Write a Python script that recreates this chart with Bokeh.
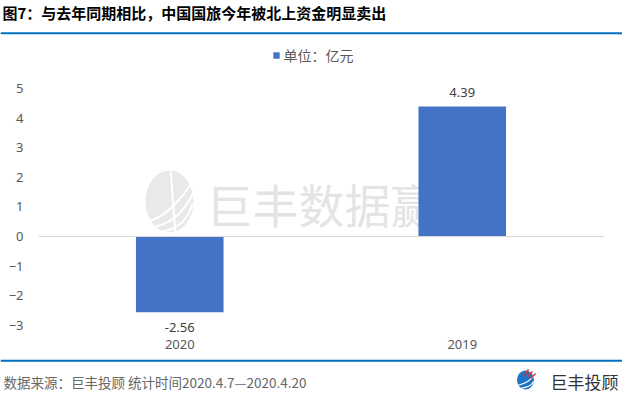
from bokeh.plotting import figure
from bokeh.models import (ColumnDataSource, Range1d, FixedTicker, Span,
                          Label, LabelSet, Legend, LegendItem)
from bokeh.core.properties import value
from bokeh.embed import file_html
from bokeh.resources import INLINE

# ---------------- data ----------------
categories = ["2020", "2019"]
values = [-2.56, 4.39]
value_labels = ["-2.56", "4.39"]
y_ticks = [-3, -2, -1, 0, 1, 2, 3, 4, 5]

title_text = "图7：与去年同期相比，中国国旅今年被北上资金明显卖出"
legend_text = "单位：亿元"
source_text = "数据来源：巨丰投顾 统计时间2020.4.7—2020.4.20"
brand_text = "巨丰投顾"
watermark_text = "巨丰数据赢"

# ---------------- geometry / styles ----------------
W, H = 622, 396
PLOT_LEFT = 38          # pixel x of the category area's left edge
BAND = 282.5            # pixels per category
ZERO_Y = 236            # pixel y of value 0
UNIT = 29.6             # pixels per value unit

LINE_BLUE = "#0070C0"
BAR_BLUE = "#4472C4"
GRAY = "#595959"
CJK = "Noto Sans CJK SC"
NUM = "Noto Sans"


def xpix(px):
    return (px - PLOT_LEFT) / BAND


def ypix(py):
    return (ZERO_Y - py) / UNIT


def xs_(lst):
    return [xpix(v) for v in lst]


def ys_(lst):
    return [ypix(v) for v in lst]


p = figure(width=W, height=H,
           x_range=Range1d(xpix(0), xpix(W)), y_range=Range1d(ypix(H), ypix(0)),
           output_backend="svg", toolbar_location=None, min_border=0)
p.outline_line_color = None
p.grid.visible = False

# header
p.add_layout(Label(x=xpix(2), y=ypix(12), text=title_text, text_baseline="middle",
                   text_font=CJK, text_font_style="bold", text_font_size="15px",
                   text_color="#000000"))
p.add_layout(Span(location=ypix(32.7), dimension="width", line_color=LINE_BLUE, line_width=2))

# watermark (decorative)
p.ellipse(x=[xpix(169)], y=[ypix(201)], width=48, height=62,
          width_units="screen", height_units="screen",
          fill_color="#e9e9e9", line_color=None)
p.bezier(x0=xs_([150, 155, 162]), y0=ys_([220, 226, 231]),
         x1=xs_([194, 194, 192]), y1=ys_([178, 190, 203]),
         cx0=xs_([170, 176, 181]), cy0=ys_([214, 222, 228]),
         cx1=xs_([185, 188, 189]), cy1=ys_([192, 203, 214]),
         line_color="white", line_width=2)
p.segment(x0=[xpix(170)], y0=[ypix(168)], x1=[xpix(175)], y1=[ypix(234)],
          line_color="white", line_width=2)
p.text(x=[xpix(206)], y=[ypix(202)], text=[watermark_text], text_font=value(CJK),
       text_font_size="46px", text_color="#e4e4e4", text_baseline="middle", text_align="left")

# bars
xs = [i + 0.5 for i in range(len(categories))]
src = ColumnDataSource(dict(x=xs, val=values, lab=value_labels,
                            off=[14 if v >= 0 else -15 for v in values]))
bars = p.vbar(x="x", top="val", bottom=0, width=0.31, source=src,
              fill_color=BAR_BLUE, line_color=None)

# zero line across the category area
p.segment(x0=[0], x1=[len(categories)], y0=[0], y1=[0], line_color="#d9d9d9", line_width=1)

p.add_layout(LabelSet(x="x", y="val", text="lab", y_offset="off", source=src,
                      text_align="center", text_baseline="middle",
                      text_font=value(NUM), text_font_size="13px", text_color="#404040"))

# axes drawn inside the frame
p.yaxis.fixed_location = 0
p.yaxis.ticker = FixedTicker(ticks=y_ticks)
p.yaxis.axis_line_color = None
p.yaxis.major_tick_line_color = None
p.yaxis.minor_tick_line_color = None
p.yaxis.major_tick_out = 0
p.yaxis.major_tick_in = 0
p.yaxis.major_label_standoff = 15
p.yaxis.major_label_text_font = NUM
p.yaxis.major_label_text_font_size = "13px"
p.yaxis.major_label_text_color = GRAY

p.xaxis.fixed_location = y_ticks[0]
p.xaxis.ticker = FixedTicker(ticks=xs)
p.xaxis.major_label_overrides = {x: c for x, c in zip(xs, categories)}
p.xaxis.axis_line_color = None
p.xaxis.major_tick_line_color = None
p.xaxis.minor_tick_line_color = None
p.xaxis.major_label_standoff = 9
p.xaxis.major_label_text_font = NUM
p.xaxis.major_label_text_font_size = "13px"
p.xaxis.major_label_text_color = GRAY

legend = Legend(items=[LegendItem(label=legend_text, renderers=[bars])],
                location=(271.5, H - 56 - 9), glyph_width=8, glyph_height=8, label_standoff=4,
                padding=0, margin=0, spacing=0, label_height=14,
                border_line_color=None, background_fill_alpha=0,
                label_text_font=CJK, label_text_font_size="14px", label_text_color=GRAY)
p.add_layout(legend)

# footer
p.add_layout(Span(location=ypix(360.3), dimension="width", line_color=LINE_BLUE, line_width=2))
p.add_layout(Label(x=xpix(3), y=ypix(381), text=source_text, text_baseline="middle",
                   text_font=CJK, text_font_size="13.5px", text_color="#666666"))
p.ellipse(x=[xpix(525)], y=[ypix(379.5)], width=17, height=19,
          width_units="screen", height_units="screen",
          fill_color="#1F74C4", line_color=None)
p.bezier(x0=xs_([517, 520]), y0=ys_([385, 388]),
         x1=xs_([533, 533]), y1=ys_([375, 381]),
         cx0=xs_([525, 527]), cy0=ys_([383, 387]),
         cx1=xs_([531, 532]), cy1=ys_([379, 384]),
         line_color="white", line_width=1.2)
p.segment(x0=xs_([524, 527, 530]), y0=ys_([375, 376, 378]),
          x1=xs_([528, 532, 535]), y1=ys_([369, 371, 373]),
          line_color="#E03030", line_width=1.5)
p.add_layout(Label(x=xpix(550), y=ypix(381), text=brand_text, text_baseline="middle",
                   text_font=CJK, text_font_size="17px", text_color="#333333"))

open("out.html", "w").write(file_html(p, INLINE))
